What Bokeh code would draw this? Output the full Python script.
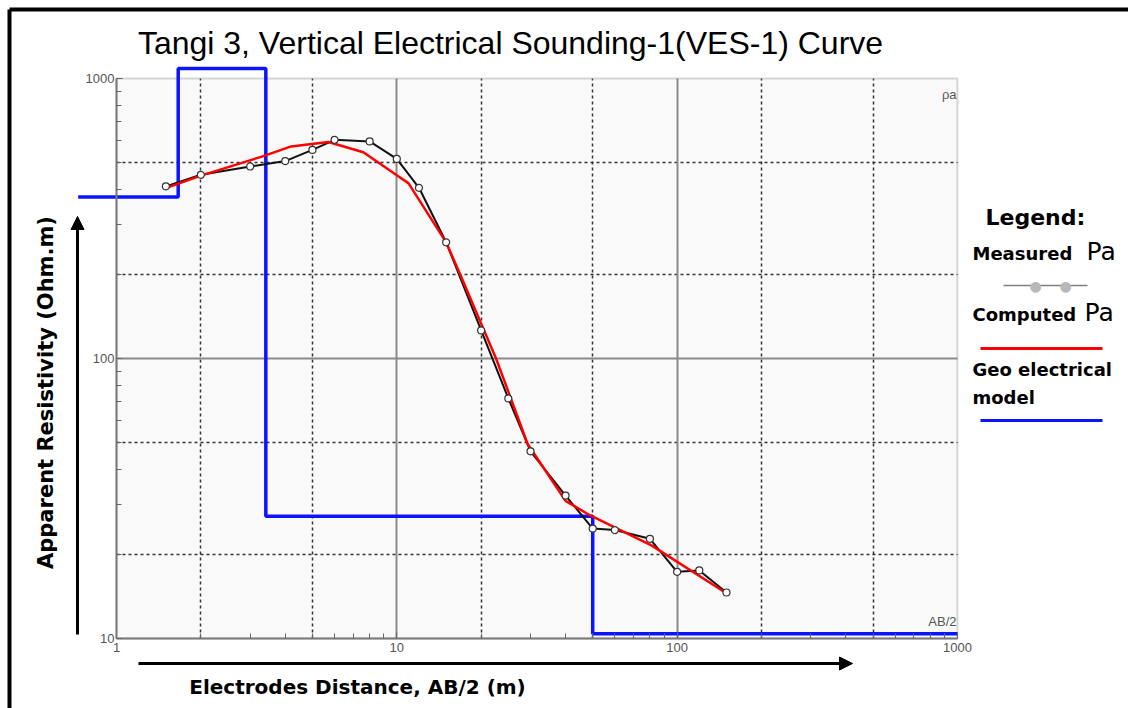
import math
from bokeh.plotting import figure
from bokeh.models import (Label, Arrow, NormalHead, BoxAnnotation, Grid,
                          FixedTicker, Range1d, BasicTickFormatter)
from bokeh.embed import file_html
from bokeh.resources import INLINE

# ---------------- data ----------------
ab2_measured = [1.5, 2, 3, 4, 5, 6, 8, 10, 12, 15, 20, 25, 30, 40, 50, 60, 80, 100, 120, 150]
rho_measured = [412, 453, 485, 507, 556, 604, 596, 516, 407, 260, 126, 72, 46.6, 32.4,
                24.7, 24.4, 22.7, 17.3, 17.5, 14.6]

ab2_computed = [1.5, 2, 3.3, 4.2, 5.7, 7.6, 10, 11, 15, 17, 20, 22.6, 29.3, 40, 49, 81, 150]
rho_computed = [406, 450, 526, 572, 593, 545, 451, 423, 260, 195, 133, 100, 49.5, 31,
                27.5, 21.5, 14.5]

# geo-electrical model: layer boundaries (AB/2) and layer resistivities
model_ab2 = [0.73, 1.66, 3.41, 50, 1000]
model_rho = [377, 1086, 27.3, 10.4]

x_major_ticks = [1, 10, 100, 1000]
x_tick_labels = ["1", "10", "100", "1000"]
y_major_ticks = [10, 100, 1000]
y_tick_labels = ["10", "100", "1000"]
solid_grid_x = [10, 100]
solid_grid_y = [100]
dashed_grid_x = [2, 5, 20, 50, 200, 500]
dashed_grid_y = [20, 50, 200, 500]

# ---------------- figure (frame covers whole canvas) ----------------
W, H = 1128, 708
X0_PX, XDEC_PX = 116.0, 280.3      # page x of AB/2 = 1, pixels per decade
Y10_PX, YDEC_PX = 638.0, 280.0     # page y of rho = 10, pixels per decade
x_lo = 10 ** (-X0_PX / XDEC_PX)
x_hi = 10 ** ((W - X0_PX) / XDEC_PX)
y_lo = 10 ** (1 - (H - Y10_PX) / YDEC_PX)
y_hi = 10 ** (1 + Y10_PX / YDEC_PX)

p = figure(width=W, height=H, x_axis_type="log", y_axis_type="log",
           x_range=Range1d(x_lo, x_hi), y_range=Range1d(y_lo, y_hi),
           output_backend="svg", toolbar_location=None,
           min_border_left=0, min_border_right=0, min_border_top=0, min_border_bottom=0)
p.outline_line_color = None
p.background_fill_color = "white"
p.border_fill_color = "white"
p.xgrid.visible = False
p.ygrid.visible = False

# visible plotting frame
p.add_layout(BoxAnnotation(left=1, right=1000, bottom=10, top=1000, fill_color="#f9f9f9",
                           fill_alpha=1, line_color=None, level="image"))

for ticks, dim, cross, color, width, dash in [
        (dashed_grid_x, 0, (10, 1000), "#333333", 1.5, "3 3"),
        (dashed_grid_y, 1, (1, 1000), "#333333", 1.5, "3 3"),
        (solid_grid_x, 0, (10, 1000), "#8a8a8a", 2, "solid"),
        (solid_grid_y, 1, (1, 1000), "#8a8a8a", 2, "solid")]:
    p.add_layout(Grid(dimension=dim, ticker=FixedTicker(ticks=ticks), cross_bounds=cross,
                      grid_line_color=color, grid_line_width=width, grid_line_dash=dash))

p.add_layout(BoxAnnotation(left=1, right=1000, bottom=10, top=1000, fill_color=None,
                           line_color="#7a7a7a", line_width=2, level="underlay"))

def minor_between(majors):
    out = []
    for m in majors[:-1]:
        out += [m * k for k in range(2, 10)]
    return out

xa = p.xaxis[0]
xa.ticker = FixedTicker(ticks=x_major_ticks, minor_ticks=minor_between(x_major_ticks))
xa.formatter = BasicTickFormatter()
xa.major_label_overrides = dict(zip(x_major_ticks, x_tick_labels))
xa.bounds = (1, 1000)
xa.fixed_location = 10
xa.major_label_standoff = 4
ya = p.yaxis[0]
ya.ticker = FixedTicker(ticks=y_major_ticks, minor_ticks=minor_between(y_major_ticks))
ya.formatter = BasicTickFormatter()
ya.major_label_overrides = dict(zip(y_major_ticks, y_tick_labels))
ya.bounds = (10, 1000)
ya.fixed_location = 1
ya.major_label_standoff = 2
for ax in (xa, ya):
    ax.axis_line_color = "#7a7a7a"
    ax.axis_line_width = 2
    ax.major_tick_in = 6
    ax.major_tick_out = 0
    ax.minor_tick_in = 5
    ax.minor_tick_out = 0
    ax.major_tick_line_color = "#666666"
    ax.minor_tick_line_color = "#666666"
    ax.major_label_text_font = "Liberation Sans"
    ax.major_label_text_font_size = "13px"
    ax.major_label_text_color = "#555555"

# ---------------- series ----------------
p.step(model_ab2, model_rho + [model_rho[-1]], mode="after", line_color="#0a14ff", line_width=3.5)
p.line(ab2_measured, rho_measured, line_color="#111111", line_width=2)
p.line(ab2_computed, rho_computed, line_color="#ff0000", line_width=2.5)
p.scatter(ab2_measured, rho_measured, marker="circle", size=7, fill_color="white",
          line_color="#333333", line_width=1.2)

# ---------------- annotations (page pixel positions) ----------------
def lab(text, px, py, size, bold=False, color="black", align="left",
        font="Liberation Sans", angle=0.0):
    p.add_layout(Label(x=px, y=H - py, x_units="screen", y_units="screen", text=text,
                       text_font=font, text_font_size=f"{size}px",
                       text_font_style="bold" if bold else "normal", text_color=color,
                       text_align=align, text_baseline="middle", angle=angle))

def seg(px0, py0, px1, py1, color, width, head=False):
    p.add_layout(Arrow(x_start=px0, y_start=H - py0, x_end=px1, y_end=H - py1,
                       start_units="screen", end_units="screen", line_color=color,
                       line_width=width, start=None,
                       end=NormalHead(size=13, fill_color=color, line_color=color) if head else None))

lab("Tangi 3, Vertical Electrical Sounding-1(VES-1) Curve", 510, 42, 32, align="center")
lab("Apparent Resistivity (Ohm.m)", 45, 392, 21, bold=True, align="center",
    font="DejaVu Sans", angle=math.pi / 2)
lab("Electrodes Distance, AB/2 (m)", 357, 686, 20, bold=True, align="center", font="DejaVu Sans")
lab("ρa", 956, 94, 13, color="#555555", align="right")
lab("AB/2", 956, 621, 13, color="#555555", align="right")

seg(77, 634, 77, 216, "black", 3, head=True)
seg(138, 663, 852, 663, "black", 3, head=True)

lab("Legend:", 985, 217, 22, bold=True, font="DejaVu Sans")
lab("Measured", 972, 253, 18, bold=True, font="DejaVu Sans")
lab("Pa", 1086, 251, 25, font="DejaVu Sans")
seg(1003, 285, 1087, 285, "#808080", 1.5)
lab("●", 1035, 285, 14, color="#b8b8b8", align="center", font="DejaVu Sans")
lab("●", 1065, 285, 14, color="#b8b8b8", align="center", font="DejaVu Sans")
lab("Computed", 972, 314, 18, bold=True, font="DejaVu Sans")
lab("Pa", 1084, 312, 25, font="DejaVu Sans")
seg(980, 348, 1102, 348, "#ff0000", 3)
lab("Geo electrical", 972, 369, 18, bold=True, font="DejaVu Sans")
lab("model", 972, 397, 18, bold=True, font="DejaVu Sans")
seg(980, 420, 1102, 420, "#0a14ff", 3)

# outer border (top and left)
seg(9, 720, 9, 9, "black", 4)
seg(9, 9, 1140, 9, "black", 4)

open("out.html", "w").write(file_html(p, INLINE))
